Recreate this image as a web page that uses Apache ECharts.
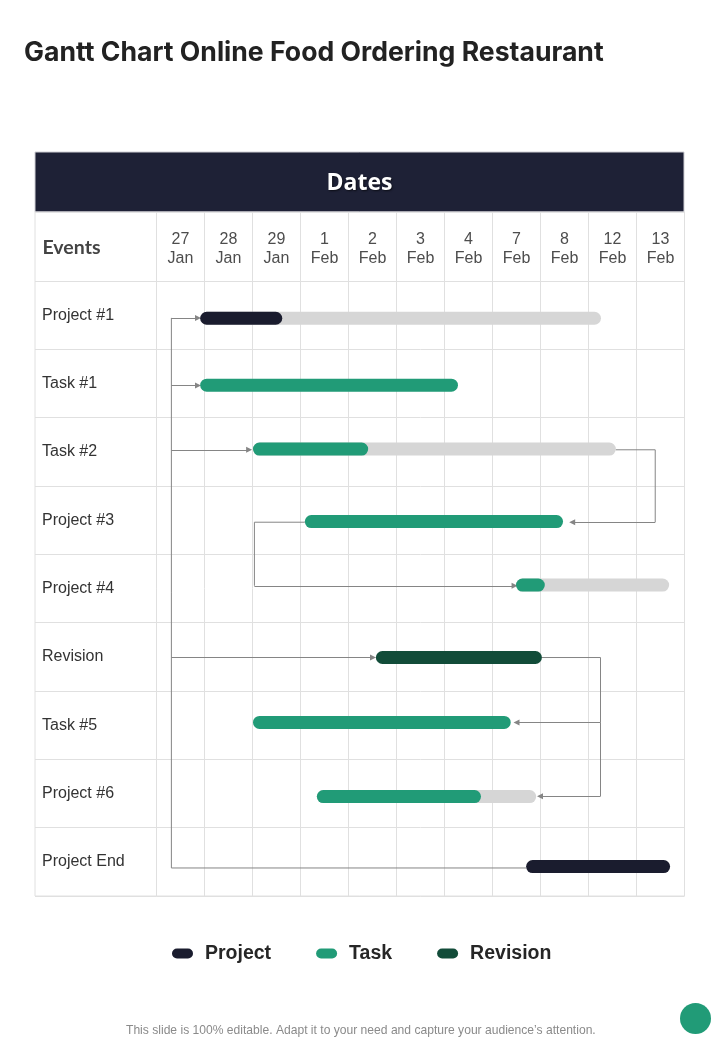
<!DOCTYPE html>
<html>
<head>
<meta charset="utf-8">
<title>Gantt Chart Online Food Ordering Restaurant</title>
<script src="https://cdn.jsdelivr.net/npm/echarts@6/dist/echarts.min.js"></script>
<style>
    html, body { margin: 0; padding: 0; background: #fff; }
    #chart { width: 720px; height: 1040px; }
</style>
</head>
<body>
<div id="chart"></div>
<script>
const dates = ['27\nJan', '28\nJan', '29\nJan', '1\nFeb', '2\nFeb', '3\nFeb', '4\nFeb', '7\nFeb', '8\nFeb', '12\nFeb', '13\nFeb'];
const events = ['Project #1', 'Task #1', 'Task #2', 'Project #3', 'Project #4', 'Revision', 'Task #5', 'Project #6', 'Project End'];
const kinds = ['Project', 'Task', 'Task', 'Task', 'Task', 'Revision', 'Task', 'Task', 'Project'];

// in column units (0 = left of 27 Jan, 11 = right of 13 Feb) and row units (0 = top of Project #1)
const barStart = [0.91, 0.91, 2.01, 3.09, 7.49, 4.57, 2.01, 3.34, 7.70];
const barDone = [2.62, 6.28, 4.41, 8.47, 8.09, 8.03, 7.38, 6.76, 10.70];
const barPlanned = [9.26, 6.28, 9.57, 8.47, 10.68, 8.03, 7.38, 7.91, 10.70];
const barRow = [0.545, 1.525, 2.46, 3.52, 4.45, 5.51, 6.46, 7.545, 8.57];

// connector lines between bars, same units. the last segment of an arrow link gets the arrow head
const arrowLinks = [
    [[0.31, 0.54], [0.865, 0.54]],
    [[0.31, 1.53], [0.865, 1.53]],
    [[0.31, 2.47], [1.93, 2.47]],
    [[0.31, 5.51], [4.51, 5.51]],
    [[9.57, 2.47], [10.39, 2.47], [10.39, 3.53], [8.66, 3.53]],
    [[3.09, 3.53], [2.04, 3.53], [2.04, 4.46], [7.46, 4.46]],
    [[8.03, 5.51], [9.25, 5.51], [9.25, 6.46], [7.50, 6.46]],
    [[9.25, 6.46], [9.25, 7.54], [7.99, 7.54]]
];
const plainLinks = [
    [[0.31, 0.54], [0.31, 8.59], [7.70, 8.59]]
];

const kindColors = { Project: '#1a1c2e', Task: '#219b77', Revision: '#124c39' };
const trackColor = '#d6d6d6';
const gridColor = '#e0e0e0';
const linkColor = '#858585';

function renderPill(params, api) {
    const a = api.coord([api.value(0), api.value(2)]);
    const b = api.coord([api.value(1), api.value(2)]);
    const h = 13;
    return {
        type: 'rect',
        shape: { x: a[0], y: a[1] - h / 2, width: b[0] - a[0], height: h, r: h / 2 },
        style: { fill: api.visual('color') }
    };
}

function barsOf(kind) {
    const out = [];
    events.forEach((e, i) => {
        if (kinds[i] === kind) out.push([barStart[i], barDone[i], barRow[i]]);
    });
    return out;
}

function barSeries(name, data, color, z) {
    return {
        name: name,
        type: 'custom',
        xAxisIndex: 1,
        yAxisIndex: 1,
        renderItem: renderPill,
        encode: { x: [0, 1], y: 2 },
        itemStyle: { color: color },
        data: data,
        z: z,
        silent: true
    };
}

function linkSeries(links, polyline) {
    return {
        type: 'lines',
        coordinateSystem: 'cartesian2d',
        xAxisIndex: 1,
        yAxisIndex: 1,
        polyline: polyline,
        symbol: polyline ? ['none', 'none'] : ['none', 'triangle'],
        symbolSize: 6,
        lineStyle: { color: linkColor, width: 1, opacity: 1, curveness: 0 },
        data: links.map(l => ({ coords: l })),
        z: 3,
        silent: true
    };
}

// polyline mode draws no symbols, so the arrow heads go on a separate series
const linkBodies = plainLinks.concat(arrowLinks.filter(l => l.length > 2).map(l => l.slice(0, -1)));
const linkTips = arrowLinks.map(l => l.slice(-2));

const chart = echarts.init(document.getElementById('chart'));

const option = {
    animation: false,
    backgroundColor: '#fff',
    title: [
        {
            text: 'Gantt Chart Online Food Ordering Restaurant',
            left: 24,
            top: 39,
            padding: 0,
            textStyle: { fontFamily: 'Inter', fontSize: 26.6, fontWeight: 'bold', color: '#222' }
        },
        {
            text: 'Dates',
            left: 359.5,
            top: 172,
            padding: 0,
            textAlign: 'center',
            textStyle: {
                fontFamily: 'Open Sans',
                fontSize: 23,
                fontWeight: 'bold',
                color: '#fff',
                textShadowColor: 'rgba(0,0,0,0.6)',
                textShadowBlur: 2,
                textShadowOffsetX: 1,
                textShadowOffsetY: 1
            }
        },
        {
            text: 'Events',
            left: 42.5,
            top: 238,
            padding: 0,
            textStyle: { fontFamily: 'Lato', fontSize: 19.5, fontWeight: 'bold', color: '#444' }
        },
        {
            text: 'This slide is 100% editable. Adapt it to your need and capture your audience\u2019s attention.',
            left: 126,
            top: 1025,
            padding: 0,
            textStyle: { fontFamily: 'Liberation Sans', fontSize: 12.1, fontWeight: 'normal', color: '#8a8a8a' }
        }
    ],
    legend: {
        data: ['Project', 'Task', 'Revision'],
        left: 172,
        top: 943.5,
        padding: 0,
        itemWidth: 21,
        itemHeight: 10,
        itemGap: 45,
        icon: 'path://M5,0H16A5,5 0 0 1 16,10H5A5,5 0 0 1 5,0Z',
        selectedMode: false,
        textStyle: { fontFamily: 'Liberation Sans', fontSize: 19.5, fontWeight: 'bold', color: '#262626', padding: [0, 0, 0, 7] }
    },
    grid: { left: 156.5, top: 281, width: 528, height: 615, containLabel: false },
    xAxis: [
        {
            type: 'category',
            position: 'top',
            data: dates,
            axisLine: { show: true, lineStyle: { color: gridColor } },
            axisTick: { show: true, length: 69, lineStyle: { color: gridColor } },
            axisLabel: {
                interval: 0,
                margin: 13,
                fontFamily: 'Liberation Sans',
                fontSize: 16,
                lineHeight: 19,
                color: '#4d4d4d'
            },
            splitLine: { show: true, interval: 0, lineStyle: { color: gridColor } }
        },
        { type: 'value', min: 0, max: 11, show: false }
    ],
    yAxis: [
        {
            type: 'category',
            inverse: true,
            data: events,
            axisLine: { show: true, lineStyle: { color: gridColor } },
            axisTick: { show: true, length: 121.5, lineStyle: { color: gridColor } },
            axisLabel: {
                interval: 0,
                margin: 114.5,
                align: 'left',
                padding: [3, 0, 0, 0],
                fontFamily: 'Liberation Sans',
                fontSize: 16,
                color: '#333'
            },
            splitLine: { show: true, interval: 0, lineStyle: { color: gridColor } }
        },
        { type: 'value', inverse: true, min: 0, max: 9, show: false }
    ],
    series: [
        barSeries('track', barStart.map((s, i) => [s, barPlanned[i], barRow[i]]).filter((b, i) => barPlanned[i] > barDone[i]), trackColor, 2),
        linkSeries(linkBodies, true),
        linkSeries(linkTips, false),
        barSeries('Project', barsOf('Project'), kindColors.Project, 4),
        barSeries('Task', barsOf('Task'), kindColors.Task, 4),
        barSeries('Revision', barsOf('Revision'), kindColors.Revision, 4)
    ],
    graphic: [
        {
            type: 'rect',
            shape: { x: 35, y: 212, width: 649.5, height: 684 },
            style: { fill: 'none', stroke: gridColor, lineWidth: 1 },
            silent: true
        },
        {
            type: 'rect',
            z: -1,
            shape: { x: 35, y: 152, width: 649, height: 60 },
            style: { fill: '#1e2136', stroke: '#cfcfd4', lineWidth: 1 },
            silent: true
        },
        {
            type: 'circle',
            shape: { cx: 695.5, cy: 1018.5, r: 15.5 },
            style: { fill: '#219b77' },
            silent: true
        }
    ]
};

chart.setOption(option);
</script>
</body>
</html>
